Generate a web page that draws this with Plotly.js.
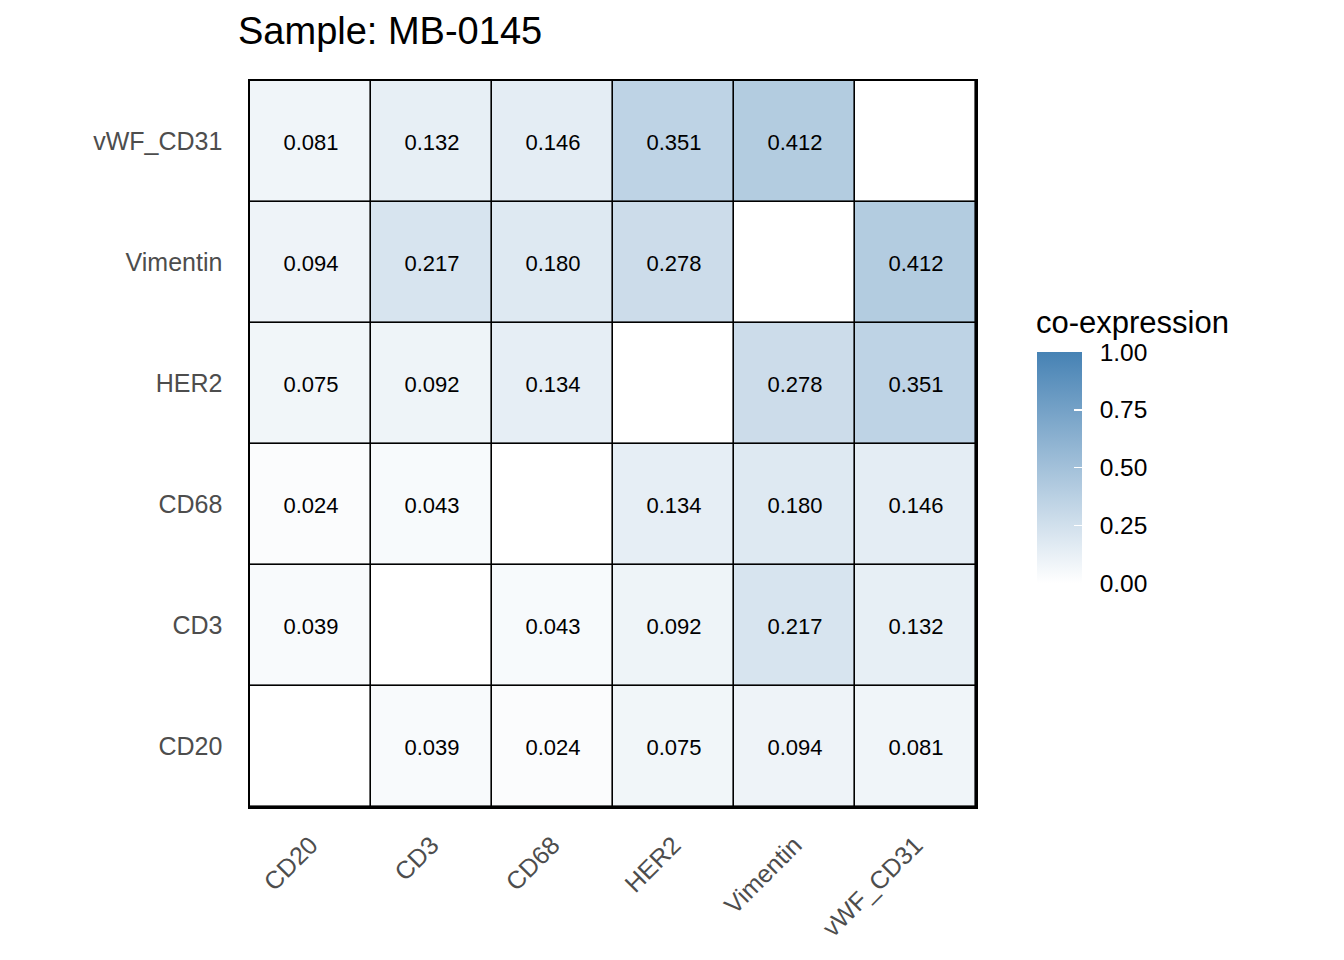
<!DOCTYPE html>
<html>
<head>
<meta charset="utf-8">
<script src="https://cdn.plot.ly/plotly-3.0.1.min.js"></script>
<style>body{margin:0;background:#fff;} #chart{width:1344px;height:960px;}</style>
</head>
<body>
<div id="chart"></div>
<script>
const markers = ["CD20", "CD3", "CD68", "HER2", "Vimentin", "vWF_CD31"];
// rows follow markers (bottom to top), columns follow markers (left to right)
const row_CD20     = [null, 0.039, 0.024, 0.075, 0.094, 0.081];
const row_CD3      = [0.039, null, 0.043, 0.092, 0.217, 0.132];
const row_CD68     = [0.024, 0.043, null, 0.134, 0.180, 0.146];
const row_HER2     = [0.075, 0.092, 0.134, null, 0.278, 0.351];
const row_Vimentin = [0.094, 0.217, 0.180, 0.278, null, 0.412];
const row_vWF_CD31 = [0.081, 0.132, 0.146, 0.351, 0.412, null];
const colorTicks = [0, 0.25, 0.5, 0.75, 1];
const colorTickLabels = ["0.00", "0.25", "0.50", "0.75", "1.00"];
const legendTitle = "co-expression";

const z = [row_CD20, row_CD3, row_CD68, row_HER2, row_Vimentin, row_vWF_CD31];
// diagonal (self pairs) drawn as blank white cells
const zDiag = markers.map((r, i) => markers.map((c, j) => (i === j ? 0 : null)));

const font = "Liberation Sans, Arial, Helvetica, sans-serif";

const traces = [
  {
    type: "heatmap",
    x: markers, y: markers, z: z,
    zmin: 0, zmax: 1,
    colorscale: [[0, "#FFFFFF"], [1, "#4682B4"]],
    xgap: 1.6, ygap: 1.6,
    texttemplate: "%{z:.3f}",
    textfont: {family: font, size: 22, color: "#000000"},
    hoverinfo: "skip",
    colorbar: {
      x: (1037 - 250) / 726, xanchor: "left",
      y: (807 - 583) / 726, yanchor: "bottom",
      lenmode: "pixels", len: 231, thickness: 45,
      outlinewidth: 0, xpad: 0, ypad: 0,
      tickmode: "array", tickvals: colorTicks,
      ticktext: colorTickLabels.map(s => "\u2002" + s),
      ticks: "inside", ticklen: 8, tickcolor: "#FFFFFF", tickwidth: 1.5,
      tickfont: {family: font, size: 24.5, color: "#000000"}
    }
  },
  {
    type: "heatmap",
    x: markers, y: markers, z: zDiag,
    zmin: 0, zmax: 1,
    colorscale: [[0, "#FFFFFF"], [1, "#FFFFFF"]],
    showscale: false,
    xgap: 1.6, ygap: 1.6,
    hoverinfo: "skip"
  }
];

const layout = {
  width: 1344, height: 960,
  margin: {l: 250, r: 368, t: 81, b: 153, pad: 0},
  paper_bgcolor: "#FFFFFF",
  plot_bgcolor: "#000000",
  font: {family: font},
  title: {
    text: "Sample: MB-0145",
    font: {family: font, size: 38, color: "#000000"},
    xref: "container", x: 238 / 1344, xanchor: "left",
    yref: "container", y: 1 - 31 / 960, yanchor: "middle"
  },
  annotations: [{
    text: legendTitle,
    xref: "paper", yref: "paper",
    x: (1034 - 250) / 726, xanchor: "left",
    y: (807 - 322) / 726, yanchor: "middle",
    showarrow: false,
    font: {family: font, size: 31, color: "#000000"}
  }],
  xaxis: {
    type: "category",
    tickangle: -45,
    tickfont: {family: font, size: 25, color: "#4D4D4D"},
    showgrid: false, zeroline: false,
    ticks: "", ticklabelstandoff: 12,
    showline: true, mirror: true, linecolor: "#000000", linewidth: 1.6,
    fixedrange: true
  },
  yaxis: {
    type: "category",
    tickfont: {family: font, size: 25, color: "#4D4D4D"},
    showgrid: false, zeroline: false,
    ticks: "", ticklabelstandoff: 21,
    showline: true, mirror: true, linecolor: "#000000", linewidth: 1.6,
    fixedrange: true
  }
};

Plotly.newPlot("chart", traces, layout, {displayModeBar: false, staticPlot: true});
</script>
</body>
</html>
